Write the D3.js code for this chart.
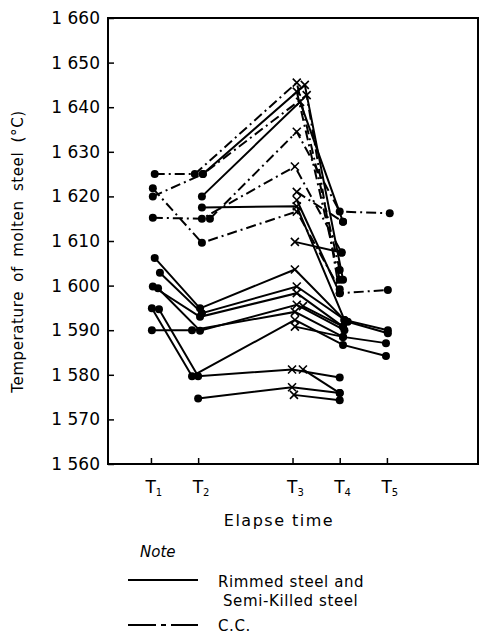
<!DOCTYPE html>
<html>
<head>
<meta charset="utf-8">
<script src="https://cdn.jsdelivr.net/npm/d3@7"></script>
<style>
  body { margin: 0; background: #fff; }
  svg { display: block; }
</style>
</head>
<body>
<svg id="chart" width="480" height="635"></svg>
<script>
// elapse time positions (T3 is drawn further right, as in the original)
const timeTicks = [1, 2, 4, 5, 6];
const timeSubs = ["1", "2", "3", "4", "5"];
const tempTicks = [1560, 1570, 1580, 1590, 1600, 1610, 1620, 1630, 1640, 1650, 1660];

// each heat: [time, temperature °C]
const rimmed = [
    [[1.08, 1606.2], [2.04, 1594.9], [4.05, 1603.6], [5.10, 1592.3], [6.02, 1590.0]],
    [[1.19, 1602.9], [2.08, 1593.8], [4.09, 1599.8], [5.17, 1591.9], [6.02, 1589.3]],
    [[1.04, 1599.8], [2.04, 1593.0], [4.09, 1598.3], [5.07, 1590.8]],
    [[1.15, 1599.4], [2.04, 1589.9], [4.09, 1595.7], [5.10, 1590.0]],
    [[1.02, 1590.0], [1.87, 1590.0], [4.05, 1594.1], [5.07, 1588.5], [5.98, 1587.1]],
    [[1.02, 1594.9], [1.87, 1579.7], [4.05, 1592.3], [5.07, 1586.7], [5.98, 1584.2]],
    [[1.17, 1594.7], [2.00, 1579.7], [3.99, 1581.2], [5.00, 1579.4]],
    [[4.22, 1581.2], [5.00, 1575.9]],
    [[2.00, 1574.7], [3.99, 1577.2], [5.00, 1575.9]],
    [[4.03, 1575.5], [5.00, 1574.3]],
    [[4.22, 1595.4], [5.07, 1590.8]],
    [[4.05, 1590.8], [5.07, 1588.5]],
    [[2.10, 1625.0], [4.26, 1645.0], [5.07, 1601.3]],
    [[2.08, 1620.0], [4.16, 1641.2], [5.07, 1614.3]],
    [[2.08, 1617.5], [4.09, 1617.8], [5.10, 1592.3]],
    [[4.05, 1609.8], [5.04, 1607.4]],
    [[4.09, 1619.2], [5.00, 1598.3]]
];

const cc = [
    [[1.08, 1625.0], [1.93, 1625.0], [4.09, 1645.5], [5.00, 1603.5]],
    [[1.04, 1620.0], [2.10, 1625.0], [4.30, 1642.7], [5.00, 1598.3], [6.02, 1599.0]],
    [[1.04, 1621.8], [2.08, 1609.6], [4.09, 1616.6], [5.00, 1599.2]],
    [[1.04, 1615.2], [2.08, 1615.0], [4.05, 1626.7], [5.04, 1607.4]],
    [[2.25, 1615.0], [4.09, 1634.5], [5.00, 1616.6], [6.06, 1616.2]],
    [[4.09, 1621.0], [5.07, 1614.3]],
    [[4.09, 1643.5], [5.00, 1601.3]]
];

const svg = d3.select("#chart");
const font = "'DejaVu Sans', sans-serif";

const x = d3.scaleLinear().domain([0.09, 7.93]).range([108, 478]);
const y = d3.scaleLinear().domain([1560, 1660]).range([464, 18]);

// frame
svg.append("rect")
    .attr("x", x.range()[0]).attr("y", y.range()[1])
    .attr("width", x.range()[1] - x.range()[0])
    .attr("height", y.range()[0] - y.range()[1])
    .attr("fill", "none").attr("stroke", "#000").attr("stroke-width", 2);

// axes
let yAxis = svg.append("g")
    .attr("transform", `translate(${x.range()[0]},0)`)
    .call(d3.axisLeft(y).tickValues(tempTicks).tickSize(-6).tickPadding(8)
        .tickFormat(d => String(d)[0] + " " + String(d).slice(1)));
yAxis.select(".domain").remove();
yAxis.selectAll(".tick line").attr("stroke-width", 1.5);
yAxis.selectAll(".tick text")
    .attr("font-family", font).attr("font-size", 17).attr("fill", "#000");

let xAxis = svg.append("g")
    .attr("transform", `translate(0,${y.range()[0]})`)
    .call(d3.axisBottom(x).tickValues(timeTicks).tickSize(-6).tickPadding(17).tickFormat(""));
xAxis.select(".domain").remove();
xAxis.selectAll(".tick line").attr("stroke-width", 1.5);
xAxis.selectAll(".tick text")
    .attr("font-family", font).attr("font-size", 17).attr("fill", "#000")
    .attr("text-anchor", "start").attr("x", -6)
    .each(function(d, i) {
        let t = d3.select(this);
        t.append("tspan").text("T");
        t.append("tspan").attr("font-size", 10).attr("dy", 3).text(timeSubs[i]);
    });

// titles
svg.append("text")
    .attr("transform", `translate(23,${(113 + 390) / 2}) rotate(-90)`)
    .attr("text-anchor", "middle")
    .attr("font-family", font).attr("font-size", 15)
    .attr("letter-spacing", 0.6).attr("word-spacing", 4)
    .text("Temperature of molten steel (°C)");

svg.append("text")
    .attr("x", 279).attr("y", 526)
    .attr("text-anchor", "middle")
    .attr("font-family", font).attr("font-size", 16)
    .attr("letter-spacing", 1.5)
    .text("Elapse time");

// lines
let line = d3.line().x(d => x(d[0])).y(d => y(d[1]));
let plot = svg.append("g");
plot.selectAll(".rimmed").data(rimmed).join("path")
    .attr("class", "rimmed")
    .attr("d", line).attr("fill", "none")
    .attr("stroke", "#000").attr("stroke-width", 2);
plot.selectAll(".cc").data(cc).join("path")
    .attr("class", "cc")
    .attr("d", line).attr("fill", "none")
    .attr("stroke", "#000").attr("stroke-width", 2)
    .attr("stroke-dasharray", "10,4,2,4");

// markers: crosses at T3, dots elsewhere
let points = rimmed.concat(cc).flat();
let isT3 = d => d[0] > 3.5 && d[0] < 4.5;
plot.selectAll(".dot").data(points.filter(d => !isT3(d))).join("circle")
    .attr("class", "dot")
    .attr("cx", d => x(d[0])).attr("cy", d => y(d[1]))
    .attr("r", 4).attr("fill", "#000");
plot.selectAll(".cross").data(points.filter(isT3)).join("path")
    .attr("class", "cross")
    .attr("d", d => {
        let cx = x(d[0]), cy = y(d[1]), s = 4;
        return `M${cx - s},${cy - s}L${cx + s},${cy + s}M${cx - s},${cy + s}L${cx + s},${cy - s}`;
    })
    .attr("stroke", "#000").attr("stroke-width", 1.6).attr("fill", "none");

// legend
let legend = svg.append("g").attr("font-family", font).attr("font-size", 15);
legend.append("text").attr("x", 140).attr("y", 557)
    .attr("font-style", "italic").attr("font-size", 15).text("Note");
legend.append("line").attr("x1", 128).attr("x2", 198).attr("y1", 580).attr("y2", 580)
    .attr("stroke", "#000").attr("stroke-width", 2);
legend.append("text").attr("x", 218).attr("y", 587).attr("letter-spacing", 0.6).text("Rimmed steel and");
legend.append("text").attr("x", 223).attr("y", 606).attr("letter-spacing", 0.6).text("Semi-Killed steel");
legend.append("line").attr("x1", 128).attr("x2", 198).attr("y1", 625).attr("y2", 625)
    .attr("stroke", "#000").attr("stroke-width", 2)
    .attr("stroke-dasharray", "28,5,5,5");
legend.append("text").attr("x", 218).attr("y", 631).attr("letter-spacing", 0.6).text("C.C.");
</script>
</body>
</html>
